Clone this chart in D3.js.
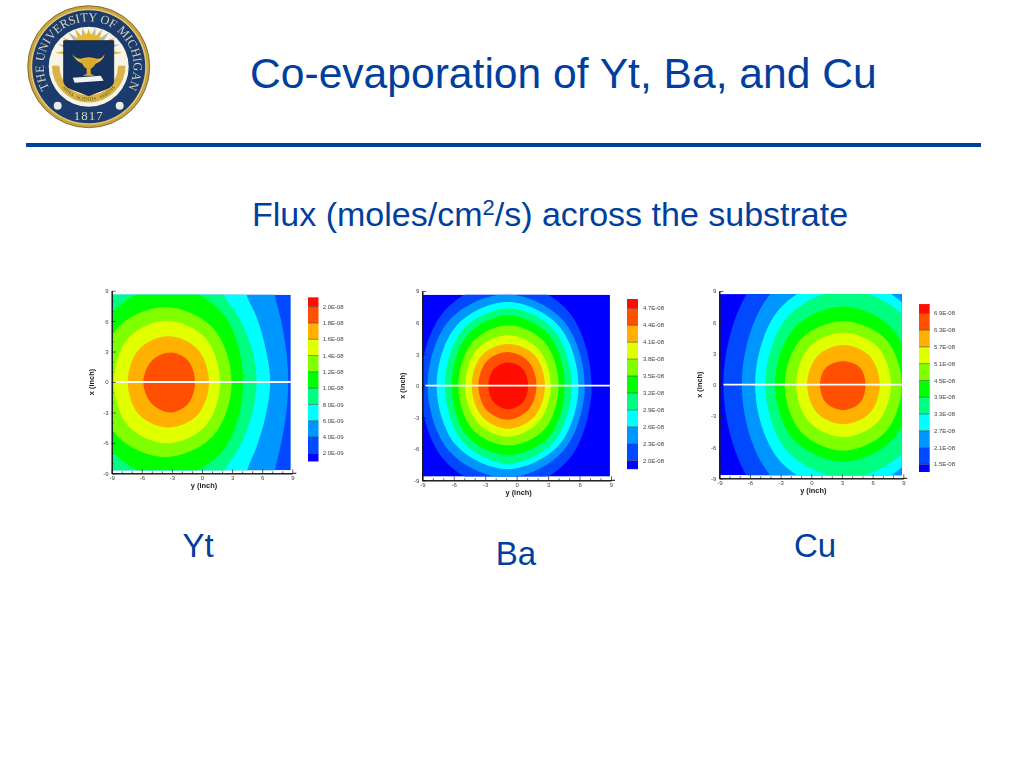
<!DOCTYPE html>
<html>
<head>
<meta charset="utf-8">
<title>Co-evaporation of Yt, Ba, and Cu</title>
<script src="https://cdn.jsdelivr.net/npm/d3@7"></script>
<style>
  html,body{margin:0;padding:0;background:#fff;}
  svg{display:block;font-family:"Liberation Sans",Arial,sans-serif;}
</style>
</head>
<body>
<svg id="slide" width="1024" height="768" viewBox="0 0 1024 768"></svg>
<script>
/* ---------- data ---------- */
const bandColors=["#0000ff","#0048ff","#0096ff","#00ffff","#00ff80","#00ff00","#80ff00","#e0ff00","#ffb000","#ff5000","#ff1000"];
const majorTicks=[-9,-6,-3,0,3,6,9];
const minorTicks=[-8,-7,-5,-4,-2,-1,1,2,4,5,7,8];

const ytLevels=[2e-9,4e-9,6e-9,8e-9,1e-8,1.2e-8,1.4e-8,1.6e-8,1.8e-8,2e-8];
const ytLabels=["2.0E-09","4.0E-09","6.0E-09","8.0E-09","1.0E-08","1.2E-08","1.4E-08","1.6E-08","1.8E-08","2.0E-08"];
const ytRange=[1e-9,2.115e-8];
const ytBase=1;
// [band, [[y,x],...]] contour outlines in inches, painted low to high
const ytContours=[
 [2,[[7,12],[7.25,8.6],[7.9,6],[8.4,3],[8.6,0],[8.4,-3],[7.9,-6],[7.3,-8.7],[7,-12],[-14,-12],[-14,12]]],
 [3,[[4,12],[4.45,8.6],[5.4,6.5],[6.3,3.5],[6.8,0],[6.3,-3.5],[5.4,-6.5],[4.5,-8.7],[4,-12],[-14,-12],[-14,12]]],
 [4,[[1.7,12],[2.2,8.6],[3.6,6.5],[4.9,3.5],[5.45,0],[4.9,-3.5],[3.7,-6.5],[2.3,-8.7],[1.9,-12],[-14,-12],[-14,12]]],
 [5,[[-3.45,9.5],[2,6.84],[4.1,0],[2,-6.84],[-3.45,-9.5],[-8.9,-6.84],[-11,0],[-8.9,6.84]]],
 [6,[[-3.67,7.4],[1.1,5.33],[2.95,0],[1.1,-5.33],[-3.67,-7.4],[-8.44,-5.33],[-10.3,0],[-8.44,5.33]]],
 [7,[[-3.5,6.05],[0.32,4.36],[1.8,0],[0.32,-4.36],[-3.5,-6.05],[-7.32,-4.36],[-8.8,0],[-7.32,4.36]]],
 [8,[[-3.35,4.5],[-0.43,3.24],[0.7,0],[-0.43,-3.24],[-3.35,-4.5],[-6.27,-3.24],[-7.4,0],[-6.27,3.24]]],
 [9,[[-3.1,2.9],[-1.38,2.1],[-0.7,0],[-1.38,-2.15],[-3.1,-3],[-5,-2.15],[-5.85,0],[-5,2.1]]]
];

const baLevels=[2e-8,2.3e-8,2.6e-8,2.9e-8,3.2e-8,3.5e-8,3.8e-8,4.1e-8,4.4e-8,4.7e-8];
const baLabels=["2.0E-08","2.3E-08","2.6E-08","2.9E-08","3.2E-08","3.5E-08","3.8E-08","4.1E-08","4.4E-08","4.7E-08"];
const baRange=[1.85e-8,4.865e-8];
const baBase=0;
const baContours=[
 [1,[[-1,9.9],[4.9,7.1],[7.15,0],[4.9,-7.1],[-1,-9.9],[-6.9,-7.1],[-9.2,0],[-6.9,7.1]]],
 [2,[[-1,8.7],[4.4,6.25],[6.5,0],[4.4,-6.25],[-1,-8.75],[-6.4,-6.25],[-8.5,0],[-6.4,6.25]]],
 [3,[[-0.87,7.95],[4,5.7],[5.9,0],[4,-5.7],[-0.87,-7.95],[-5.74,-5.7],[-7.63,0],[-5.74,5.7]]],
 [4,[[-0.8,7.35],[3.55,5.3],[5.25,0],[3.55,-5.3],[-0.8,-7.4],[-5.15,-5.3],[-6.84,0],[-5.15,5.3]]],
 [5,[[-0.8,6.7],[3.1,4.8],[4.6,0],[3.1,-4.8],[-0.8,-6.6],[-4.7,-4.8],[-6.2,0],[-4.7,4.8]]],
 [6,[[-0.78,5.75],[2.66,4.15],[4,0],[2.66,-4.15],[-0.78,-5.7],[-4.22,-4.15],[-5.56,0],[-4.22,4.15]]],
 [7,[[-0.84,4.8],[2.1,3.45],[3.25,0],[2.1,-3.45],[-0.84,-4.85],[-3.78,-3.45],[-4.93,0],[-3.78,3.45]]],
 [8,[[-0.8,3.95],[1.72,2.9],[2.7,0],[1.72,-2.9],[-0.8,-4.1],[-3.32,-2.9],[-4.29,0],[-3.32,2.9]]],
 [9,[[-0.88,3.2],[1.12,2.3],[1.9,0],[1.12,-2.3],[-0.88,-3.25],[-2.88,-2.3],[-3.65,0],[-2.88,2.3]]],
 [10,[[-0.8,2.2],[0.57,1.6],[1.1,0],[0.57,-1.6],[-0.8,-2.25],[-2.17,-1.6],[-2.7,0],[-2.17,1.6]]]
];

const cuLevels=[1.5e-8,2.1e-8,2.7e-8,3.3e-8,3.9e-8,4.5e-8,5.1e-8,5.7e-8,6.3e-8,6.9e-8];
const cuLabels=["1.5E-08","2.1E-08","2.7E-08","3.3E-08","3.9E-08","4.5E-08","5.1E-08","5.7E-08","6.3E-08","6.9E-08"];
const cuRange=[1.225e-8,7.23e-8];
const cuBase=0;
const cuContours=[
 [1,[[3.2,14.1],[-5.3,10.15],[-8.6,0],[-5.3,-10.15],[3.2,-14.1],[11.7,-10.15],[15,0],[11.7,10.15]]],
 [2,[[3.2,12.1],[-4,8.7],[-6.8,0],[-4,-8.7],[3.2,-12.1],[10.4,-8.7],[13.2,0],[10.4,8.7]]],
 [3,[[3.2,10.2],[-3.06,7.34],[-5.5,0],[-3.06,-7.34],[3.2,-10.2],[9.46,-7.34],[11.9,0],[9.46,7.34]]],
 [4,[[3.4,9.1],[-2.29,6.55],[-4.5,0],[-2.29,-6.45],[3.4,-8.95],[9.09,-6.45],[11.3,0],[9.09,6.55]]],
 [5,[[3.1,7.5],[-1.7,5.4],[-3.55,0],[-1.7,-5.33],[3.1,-7.4],[7.9,-5.33],[9.8,0],[7.9,5.4]]],
 [6,[[3.1,6.1],[-1,4.4],[-2.6,0],[-1,-4.55],[3.1,-6.35],[7.25,-4.55],[8.85,0],[7.25,4.4]]],
 [7,[[3.15,5],[-0.2,3.6],[-1.5,0],[-0.2,-3.6],[3.15,-5.05],[6.5,-3.6],[7.8,0],[6.5,3.6]]],
 [8,[[3.15,3.8],[0.6,2.75],[-0.4,0],[0.6,-2.75],[3.15,-3.8],[5.7,-2.75],[6.7,0],[5.7,2.75]]],
 [9,[[3.1,2.25],[1.45,1.65],[0.85,0],[1.45,-1.75],[3.1,-2.45],[4.75,-1.75],[5.3,0],[4.75,1.65]]]
];

/* ---------- layout ---------- */
const panels=[
 {levels:ytLevels,labels:ytLabels,range:ytRange,base:ytBase,contours:ytContours,
  ax:[111.7,292.3],ay:[473.3,290.7],fillY:[-8.9,8.85],fillX:[-8.7,8.6],lineFrom:-8.6,
  bar:{x:308,w:10.5,y0:453.3,y1:306.7,lx:322.7},name:"Yt",nx:198,ny:557},
 {levels:baLevels,labels:baLabels,range:baRange,base:baBase,contours:baContours,
  ax:[422.3,611],ay:[480.3,291],fillY:[-9,8.9],fillX:[-8.65,8.65],lineFrom:-8.75,
  bar:{x:627,w:11,y0:460.7,y1:308.3,lx:643},name:"Ba",nx:516,ny:565},
 {levels:cuLevels,labels:cuLabels,range:cuRange,base:cuBase,contours:cuContours,
  ax:[719.3,903.3],ay:[478.3,291],fillY:[-9,8.85],fillX:[-8.7,8.7],lineFrom:-8.6,
  bar:{x:919,w:10.7,y0:464.3,y1:313.3,lx:934},name:"Cu",nx:815,ny:557}
];
const blue="#003f9e";
const svg=d3.select("#slide");
const defs=svg.append("defs");
defs.append("filter").attr("id","soft").append("feGaussianBlur").attr("stdDeviation",0.35);

/* ---------- heading ---------- */
svg.append("text").attr("x",250).attr("y",88).attr("font-size",42.6)
   .attr("fill",blue).text("Co-evaporation of Yt, Ba, and Cu");
svg.append("line").attr("x1",26).attr("x2",981).attr("y1",145).attr("y2",145)
   .attr("stroke",blue).attr("stroke-width",4);
const sub=svg.append("text").attr("x",252).attr("y",226).attr("font-size",34).attr("fill",blue);
sub.append("tspan").text("Flux (moles/cm");
sub.append("tspan").attr("dy",-11).attr("font-size",22).text("2");
sub.append("tspan").attr("dy",11).text("/s) across the substrate");

/* ---------- panels ---------- */
const contourLine=d3.line().curve(d3.curveCatmullRomClosed.alpha(0.5));

panels.forEach((p,i)=>{
  const g=svg.append("g").attr("filter","url(#soft)");
  const x=d3.scaleLinear().domain([-9,9]).range(p.ax);   // y (inch), horizontal
  const y=d3.scaleLinear().domain([-9,9]).range(p.ay);   // x (inch), vertical

  const clipId="clip"+i;
  const fx=x(p.fillY[0]),fw=x(p.fillY[1])-fx,fy=y(p.fillX[1]),fh=y(p.fillX[0])-fy;
  defs.append("clipPath").attr("id",clipId).append("rect")
      .attr("x",fx).attr("y",fy).attr("width",fw).attr("height",fh);

  const plot=g.append("g").attr("clip-path",`url(#${clipId})`);
  plot.append("rect").attr("x",fx).attr("y",fy).attr("width",fw).attr("height",fh)
      .attr("fill",bandColors[p.base]);
  plot.selectAll("path").data(p.contours).join("path")
      .attr("fill",d=>bandColors[d[0]])
      .attr("d",d=>contourLine(d[1].map(q=>[x(q[0]),y(q[1])])));

  g.append("line").attr("x1",x(p.lineFrom)).attr("x2",x(p.fillY[1]))
   .attr("y1",y(0)).attr("y2",y(0)).attr("stroke","#fff").attr("stroke-width",1.8);

  // axes, ticks point inwards
  const axes=g.append("g");
  const drawAxis=(gen,tr)=>{
    const a=axes.append("g").attr("transform",tr).call(gen);
    a.selectAll("text").attr("font-family",'"Liberation Sans",Arial,sans-serif')
     .attr("font-size",6).attr("fill","#444");
    a.selectAll("line").attr("stroke","#222").attr("stroke-width",0.7);
    a.select(".domain").attr("stroke","#111").attr("stroke-width",1);
    return a;
  };
  drawAxis(d3.axisBottom(x).tickValues(majorTicks).tickSizeInner(-4).tickSizeOuter(0).tickPadding(2)
            .tickFormat(String),`translate(0,${p.ay[0]})`);
  drawAxis(d3.axisLeft(y).tickValues(majorTicks).tickSizeInner(-4).tickSizeOuter(0).tickPadding(3)
            .tickFormat(String),`translate(${p.ax[0]},0)`);
  drawAxis(d3.axisBottom(x).tickValues(minorTicks).tickSizeInner(-2).tickSizeOuter(0)
            .tickFormat(""),`translate(0,${p.ay[0]})`);
  drawAxis(d3.axisLeft(y).tickValues(minorTicks).tickSizeInner(-2).tickSizeOuter(0)
            .tickFormat(""),`translate(${p.ax[0]},0)`);
  axes.append("line").attr("x1",p.ax[1]).attr("x2",p.ax[1]+4)
      .attr("y1",p.ay[0]).attr("y2",p.ay[0]).attr("stroke","#111");

  g.append("text").attr("x",(p.ax[0]+p.ax[1])/2+2).attr("y",p.ay[0]+15).attr("text-anchor","middle")
   .attr("font-size",7.4).attr("font-weight","bold").attr("fill","#222").text("y (inch)");
  g.append("text").attr("transform",`translate(${p.ax[0]-17.5},${(p.ay[0]+p.ay[1])/2}) rotate(-90)`)
   .attr("text-anchor","middle").attr("font-size",7.4).attr("font-weight","bold").attr("fill","#222").text("x (inch)");

  // colour bar
  const n=p.levels.length;
  const c=d3.scaleLinear().domain([p.levels[0],p.levels[n-1]]).range([p.bar.y0,p.bar.y1]);
  const edges=[p.range[0],...p.levels,p.range[1]];
  g.append("g").selectAll("rect").data(bandColors).join("rect")
   .attr("x",p.bar.x).attr("width",p.bar.w)
   .attr("y",(d,k)=>c(edges[k+1])).attr("height",(d,k)=>c(edges[k])-c(edges[k+1]))
   .attr("fill",d=>d);
  g.append("g").selectAll("line").data(p.levels).join("line")
   .attr("x1",p.bar.x).attr("x2",p.bar.x+p.bar.w)
   .attr("y1",d=>c(d)).attr("y2",d=>c(d)).attr("stroke","#333").attr("stroke-width",0.5);
  g.append("g").selectAll("text").data(p.labels).join("text")
   .attr("x",p.bar.lx).attr("y",(d,k)=>c(p.levels[k])+2.1)
   .attr("font-size",6).attr("fill","#444").text(d=>d);

  svg.append("text").attr("x",p.nx).attr("y",p.ny).attr("text-anchor","middle")
     .attr("font-size",33).attr("fill",blue).text(p.name);
});

/* ---------- university seal ---------- */
function drawSeal(){
  const s=svg.append("g").attr("transform","translate(88.7,66.7)").attr("filter","url(#soft)");
  s.append("circle").attr("r",61).attr("fill","#c9a33f").attr("stroke","#6f5a1e").attr("stroke-width",0.8);
  s.append("circle").attr("r",58).attr("fill","#e3c877");
  s.append("circle").attr("r",56.5).attr("fill","#1d3a6e");
  s.append("circle").attr("r",40).attr("fill","#f7f5e8");

  // sun rays behind the shield
  const rays=d3.range(-90,91,15);
  s.append("g").selectAll("path").data(rays).join("path")
   .attr("transform",d=>`translate(0,-14) rotate(${d})`)
   .attr("d",d=>`M-3.5,-13L0,${-24-Math.abs(d)*0.11}L3.5,-13Z`).attr("fill",(d,k)=>k%2?"#b9b9a8":"#e3b93a");
  s.append("circle").attr("cy",-18).attr("r",15).attr("fill","#e9b92e");

  // ribbon under the shield
  s.append("path").attr("d","M-33,-1A33,33 0 0 0 33,-1").attr("fill","none")
   .attr("stroke","#d9b54a").attr("stroke-width",7.5);

  // shield
  s.append("path").attr("d","M-25,-26L25,-26L25,14Q25,19 18,22L0,29L-18,22Q-25,19 -25,14Z")
   .attr("fill","#17315f").attr("stroke","#0b1a38").attr("stroke-width",0.8);

  // lamp and book
  s.append("path").attr("d","M-17,-13Q-13,-6 -8,-4Q0,1 9,-4Q15,-7 16,-13Q13,-7 8,-8Q0,-11 -8,-8Q-13,-8 -17,-13Z")
   .attr("fill","#e4b93a");
  s.append("path").attr("d","M-8,-7Q0,-10 9,-7Q6,0 2,2L2,7L6,9L-6,9L-2,7L-2,2Q-6,0 -8,-7Z").attr("fill","#d9ac2f");
  s.append("path").attr("d","M-16,11L12,9L15,14L-14,16Z").attr("fill","#f2f2ee");

  // lettering
  defs.append("path").attr("id","sealArc").attr("d","M-39,22A45,45 0 1 1 39,22");
  s.append("text").attr("font-family",'"Liberation Serif",serif').attr("font-size",12.4).attr("fill","#d4d3b6")
   .append("textPath").attr("href","#sealArc").attr("startOffset","50%").attr("text-anchor","middle")
   .text("THE UNIVERSITY OF MICHIGAN");
  defs.append("path").attr("id","ribbonArc").attr("d","M-33,1A33,33 0 0 0 33,1");
  s.append("text").attr("font-family",'"Liberation Serif",serif').attr("font-size",4.6).attr("fill","#5a4a18")
   .append("textPath").attr("href","#ribbonArc").attr("startOffset","50%").attr("text-anchor","middle")
   .text("ARTES · SCIENTIA · VERITAS");
  s.append("text").attr("y",53).attr("text-anchor","middle").attr("font-family",'"Liberation Serif",serif')
   .attr("font-size",13).attr("fill","#d8d4b2").attr("letter-spacing",1).text("1817");
  s.append("g").selectAll("circle").data([-31,31]).join("circle")
   .attr("cx",d=>d).attr("cy",39).attr("r",4).attr("fill","#ecece6");
}
drawSeal();
</script>
</body>
</html>
